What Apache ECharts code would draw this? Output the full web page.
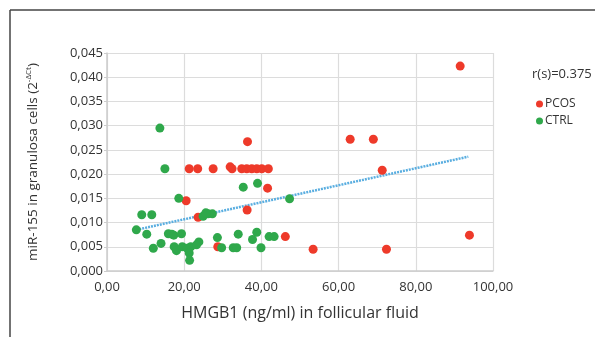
<!DOCTYPE html>
<html>
<head>
<meta charset="utf-8">
<script src="https://cdn.jsdelivr.net/npm/echarts@6/dist/echarts.min.js"></script>
<style>
  html, body { margin: 0; padding: 0; background: #fff; }
  #chart { width: 595px; height: 337px; }
</style>
</head>
<body>
<div id="chart"></div>
<script>
// PCOS group (red)
var pcosX = [21.3, 23.5, 27.5, 31.9, 32.4, 34.9, 36.2, 37.5, 38.8, 40.1, 41.8,
  36.4, 41.6, 20.5, 36.3, 23.6, 28.7, 46.2, 53.4, 72.4, 93.9, 63.0, 69.0, 71.3, 91.5];
var pcosY = [0.0211, 0.0211, 0.0211, 0.0215, 0.0211, 0.0211, 0.0211, 0.0211, 0.0211, 0.0211, 0.0211,
  0.0267, 0.0171, 0.0145, 0.0126, 0.0111, 0.0050, 0.0071, 0.0045, 0.0045, 0.0074, 0.0272, 0.0272, 0.0208, 0.0423];

// CTRL group (green)
var ctrlX = [13.7, 15.0, 35.3, 39.0, 18.6, 47.3, 9.0, 11.6, 7.6, 10.3, 15.9, 16.8, 17.3, 19.3,
  14.0, 12.0, 17.4, 18.0, 19.5, 20.8, 21.7, 21.3, 21.4, 23.8, 23.2, 24.9, 26.2, 27.3, 25.6,
  28.6, 29.7, 32.7, 33.6, 34.0, 37.7, 38.8, 39.9, 42.0, 43.3];
var ctrlY = [0.0295, 0.0211, 0.0173, 0.0181, 0.0150, 0.0149, 0.0116, 0.0116, 0.0085, 0.0076, 0.0077, 0.0076, 0.0074, 0.0077,
  0.0057, 0.0047, 0.0050, 0.0042, 0.0050, 0.0047, 0.0050, 0.0037, 0.0022, 0.0060, 0.0054, 0.0113, 0.0118, 0.0118, 0.0120,
  0.0069, 0.0048, 0.0048, 0.0048, 0.0076, 0.0065, 0.0080, 0.0048, 0.0071, 0.0071];

// fitted line end points
var trendX = [7.6, 93.6];
var trendY = [0.0085, 0.0236];

var xTicks = { min: 0, max: 100, step: 20 };
var yTicks = { min: 0, max: 0.045, step: 0.005 };

function zip(xs, ys) {
  return xs.map(function (v, i) { return [v, ys[i]]; });
}

var font = '"Open Sans", "Noto Sans", sans-serif';
var chart = echarts.init(document.getElementById('chart'));

var option = {
  animation: false,
  textStyle: { fontFamily: font },
  title: {
    text: 'r(s)=0.375',
    left: 527,
    top: 63,
    textStyle: { fontSize: 13, fontWeight: 'normal', color: '#333', fontFamily: font }
  },
  legend: {
    orient: 'vertical',
    left: 531,
    top: 93,
    itemWidth: 7,
    itemHeight: 7,
    itemGap: 5,
    icon: 'circle',
    data: ['PCOS', 'CTRL'],
    textStyle: { fontSize: 12, color: '#333', fontFamily: font, padding: [0, 0, 0, -3] }
  },
  grid: { left: 107, right: 102, top: 53, bottom: 66 },
  graphic: [
    { type: 'line', shape: { x1: 10, y1: 10, x2: 595, y2: 10 }, style: { stroke: '#444', lineWidth: 1.5 } },
    { type: 'line', shape: { x1: 10, y1: 10, x2: 10, y2: 337 }, style: { stroke: '#444', lineWidth: 1.5 } }
  ],
  xAxis: {
    type: 'value',
    min: xTicks.min,
    max: xTicks.max,
    interval: xTicks.step,
    name: 'HMGB1 (ng/ml) in follicular fluid',
    nameLocation: 'middle',
    nameGap: 34,
    nameTextStyle: { fontSize: 16, color: '#333', fontFamily: font },
    axisLine: { lineStyle: { color: '#ccc', width: 1.5 } },
    axisTick: { show: false },
    axisLabel: {
      fontSize: 13, color: '#333', margin: 10,
      formatter: function (v) { return v.toFixed(2).replace('.', ','); }
    },
    splitLine: { lineStyle: { color: '#dcdcdc', width: 1.2 } }
  },
  yAxis: {
    type: 'value',
    min: yTicks.min,
    max: yTicks.max,
    interval: yTicks.step,
    name: '{a|miR-155 in granulosa cells (2}{s|-ΔCt}{a|)}',
    nameLocation: 'middle',
    nameGap: 66,
    nameRotate: 90,
    nameTextStyle: {
      rich: {
        a: { fontSize: 13.5, color: '#333', fontFamily: font },
        s: { fontSize: 8, color: '#333', fontFamily: font, verticalAlign: 'top', padding: [0, 0, 8, 0] }
      }
    },
    axisLine: { show: true, lineStyle: { color: '#ccc', width: 1.5 } },
    axisTick: { show: true, length: 3, lineStyle: { color: '#ccc' } },
    axisLabel: {
      fontSize: 13, color: '#333', margin: 4,
      formatter: function (v) { return v.toFixed(3).replace('.', ','); }
    },
    splitLine: { lineStyle: { color: '#dcdcdc', width: 1.2 } }
  },
  series: [
    {
      name: 'trend',
      type: 'line',
      data: zip(trendX, trendY),
      symbol: 'none',
      lineStyle: { color: '#5aaee0', width: 2.5, type: [2, 1] },
      z: 1
    },
    {
      name: 'PCOS',
      type: 'scatter',
      data: zip(pcosX, pcosY),
      symbolSize: 9,
      itemStyle: { color: '#ee3a2a', opacity: 1 },
      z: 3
    },
    {
      name: 'CTRL',
      type: 'scatter',
      data: zip(ctrlX, ctrlY),
      symbolSize: 9,
      itemStyle: { color: '#2fa84b', opacity: 1 },
      z: 4
    }
  ]
};

chart.setOption(option);
</script>
</body>
</html>
